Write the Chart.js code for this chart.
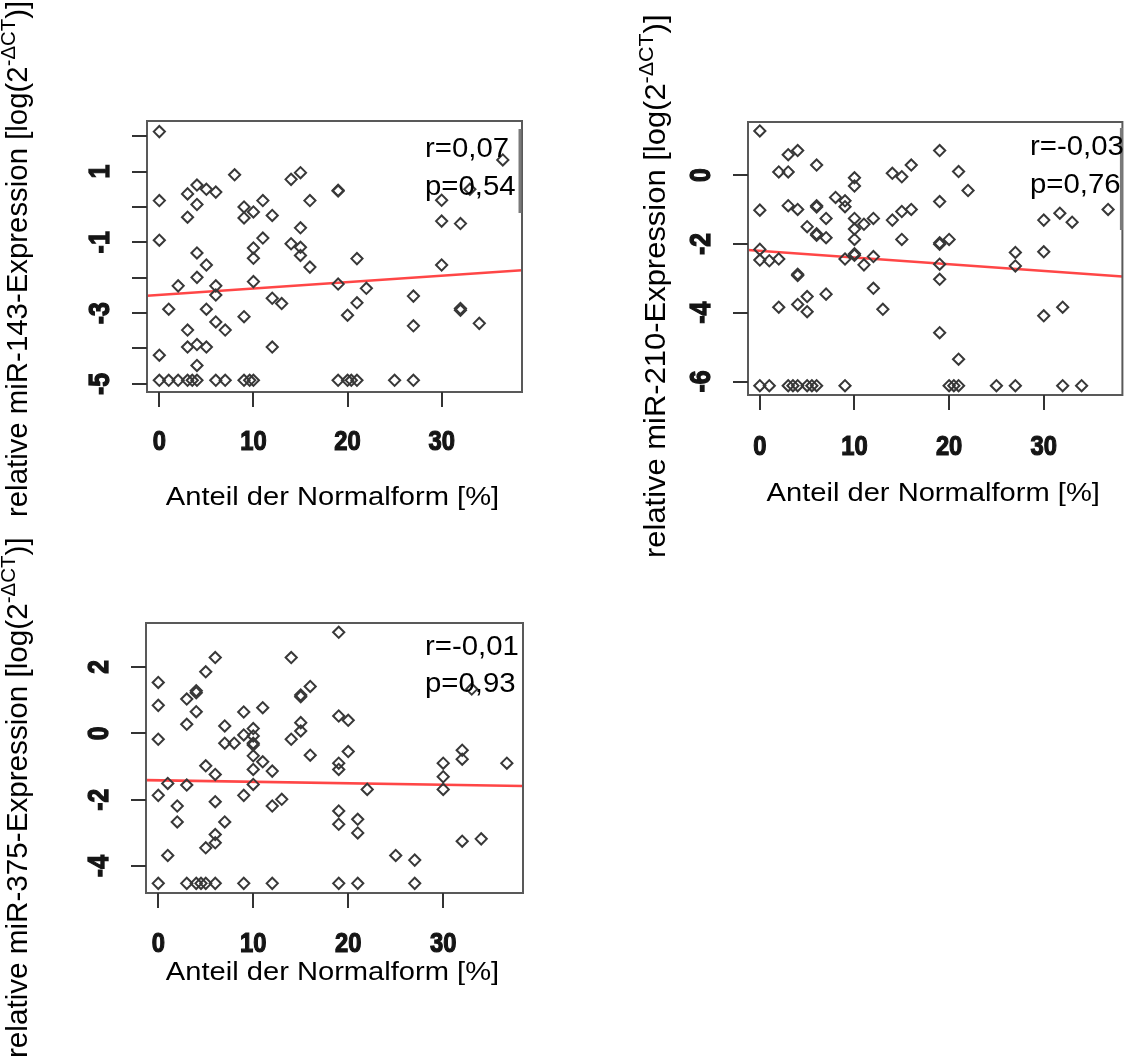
<!DOCTYPE html>
<html>
<head>
<meta charset="utf-8">
<title>miR-Expression vs. Anteil der Normalform</title>
<script src="https://cdn.jsdelivr.net/npm/chart.js@4.4.1/dist/chart.umd.min.js"></script>
<style>
body { margin: 0; background: #fff; }
#page { position: relative; width: 1130px; height: 1056px; overflow: hidden; }
canvas { position: absolute; }
</style>
</head>
<body>
<div id="page">
<canvas id="c143" width="565" height="540" style="left:0;top:0"></canvas>
<canvas id="c210" width="530" height="570" style="left:600px;top:0"></canvas>
<canvas id="c375" width="565" height="536" style="left:0;top:520px"></canvas>
</div>
<script>
// miR-143
const x143 = [0, 0, 0, 0,
  0, 1, 2, 3, 3.5, 4, 6, 7, 9, 9.6, 10, 19, 20, 20.4, 21, 25, 27,
  1, 2, 3, 3, 3, 3, 4, 4, 4, 4, 4, 4, 5, 6, 5, 5, 5, 6, 6, 6, 7,
  8, 9, 9, 10, 11, 12, 11, 10, 10, 10, 9, 12, 13, 12,
  14, 15, 16, 15, 14, 15, 15, 16, 19, 19, 19, 21, 22, 21, 20,
  27, 27, 30, 30, 30, 32, 32, 32, 34, 36.5, 33];
const y143 = [2.13, 0.18, -0.94, -4.19,
  -4.9, -4.9, -4.9, -4.9, -4.9, -4.9, -4.9, -4.9, -4.9, -4.9, -4.9, -4.9, -4.9, -4.9, -4.9, -4.9, -4.9,
  -2.89, -2.23, 0.37, -0.29, -3.48, -3.96, 0.62, 0.07, -1.30, -1.99, -3.89, -4.48, 0.50, 0.42, -1.64, -2.89, -3.96, -2.23, -2.49, -3.25, -3.48,
  0.91, 0.0, -0.31, -0.14, 0.18, -0.24, -0.88, -1.16, -1.45, -2.11, -3.10, -2.58, -2.73, -3.96,
  0.78, 0.97, 0.18, -0.59, -1.04, -1.14, -1.37, -1.70, 0.47, 0.45, -2.18, -1.46, -2.30, -2.71, -3.06,
  -2.52, -3.36, 0.19, -0.40, -1.64, -0.47, -2.87, -2.92, -3.29, 1.33, 0.5];
const fitX143 = [-1.31, 38.54];
const fitY143 = [-2.51, -1.79];

// miR-210
const x210 = [0, 0, 0, 0, 1, 2, 2, 3, 3, 4, 3, 4, 4, 4, 2, 4, 5, 5, 6, 6, 6, 5, 6, 6, 7, 7, 7,
  8, 9, 9, 10, 10, 10, 10, 10, 10, 10, 9, 11, 11, 12, 12, 12, 13,
  14, 15, 16, 14, 15, 16, 15, 19, 19, 19, 19, 20, 19, 19, 19, 21, 22, 21,
  27, 27, 30, 30, 30, 31.7, 33, 32, 36.8,
  0, 1, 3, 3.5, 4, 5, 5.5, 6, 9, 20, 20.5, 21, 25, 27, 32, 34];
const y210 = [1.28, -1.02, -2.16, -2.47, -2.49, -2.44, 0.09, 0.09, 0.59, 0.71, -0.89, -1.0, -2.88, -2.92, -3.84, -3.76, -3.53, -3.97, 0.29, -0.89, -0.93, -1.50, -1.71, -1.75, -1.26, -1.82, -3.46,
  -0.65, -0.75, -0.92, -0.08, -0.32, -1.26, -1.57, -1.87, -2.29, -2.33, -2.44, -1.43, -2.61, -1.26, -2.37, -3.29, -3.90,
  0.05, -0.05, 0.29, -1.31, -1.06, -1.0, -1.87, 0.71, -0.77, -1.97, -2.01, -1.87, -2.59, -3.03, -4.58, 0.10, -0.45, -5.35,
  -2.25, -2.64, -1.31, -2.23, -4.09, -1.11, -1.37, -3.84, -1.0,
  -6.12, -6.12, -6.12, -6.12, -6.12, -6.12, -6.12, -6.12, -6.12, -6.12, -6.12, -6.12, -6.12, -6.12, -6.12, -6.12];
const fitX210 = [-1.25, 38.31];
const fitY210 = [-2.18, -2.95];

// miR-375
const x375 = [0, 0, 0, 0, 1, 2, 2, 1, 3, 3, 4, 4, 4, 5, 6, 3, 5, 6, 6, 7, 6, 6, 5,
  7, 7, 8, 9, 9, 10, 10, 10, 10, 10, 10, 11, 11, 10, 9, 12, 12, 13,
  14, 15, 15, 16, 15, 15, 14, 16, 19, 19, 20, 20, 19, 19, 22, 19, 19, 21, 21,
  25, 27, 30, 30, 30, 32, 32, 32, 34, 36.7, 33,
  0, 3, 4, 4.5, 5, 6, 9, 12, 19, 21, 27];
const y375 = [1.53, 0.84, -0.18, -1.87, -1.51, -2.19, -2.67, -3.68, 0.27, 1.03, 1.28, 1.22, 0.65, 1.85, 2.28, -1.56, -0.98, -1.24, -2.06, -2.67, -3.05, -3.3, -3.45,
  0.22, -0.30, -0.30, 0.64, -0.05, 0.14, -0.08, -0.3, -0.35, -0.68, -1.09, 0.77, -0.86, -1.54, -1.87, -1.14, -2.19, -1.99,
  2.28, 1.15, 1.1, 1.41, 0.32, 0.07, -0.18, -0.66, 3.04, 0.52, 0.39, -0.55, -0.9, -1.09, -1.69, -2.34, -2.74, -2.59, -3.0,
  -3.68, -3.82, -0.9, -1.31, -1.69, -0.51, -0.78, -3.25, -3.18, -0.9, 1.33,
  -4.52, -4.52, -4.52, -4.52, -4.52, -4.52, -4.52, -4.52, -4.52, -4.52, -4.52];
const fitX375 = [-1.29, 38.4];
const fitY375 = [-1.41, -1.59];

// axis ticks
const xTickVals = [0, 10, 20, 30];
const yTicks143 = [-5, -4, -3, -2, -1, 0, 1, 2];
const yLabels143 = [1, -1, -3, -5];
const yTicks210 = [0, -2, -4, -6];
const yTicks375 = [2, 0, -2, -4];

const xTitle = 'Anteil der Normalform [%]';
const FONT = '"Liberation Sans", Arial, sans-serif';

function pts(xs, ys) {
  return xs.map((x, i) => ({ x: x, y: ys[i] }));
}

// draws the R-style box, ticks, labels and titles
const rPlot = {
  id: 'rPlot',
  afterDraw(chart, args, o) {
    const ctx = chart.ctx;
    const a = chart.chartArea;
    const sx = chart.scales.x, sy = chart.scales.y;
    ctx.save();

    // box
    ctx.strokeStyle = '#595959';
    ctx.lineWidth = 2;
    ctx.strokeRect(a.left, a.top, a.right - a.left, a.bottom - a.top);

    // gray edge of the pasted text box
    if (o.bar) {
      ctx.strokeStyle = '#7a7a7a';
      ctx.lineWidth = 3;
      ctx.beginPath();
      ctx.moveTo(a.right - o.bar[0], a.top + o.bar[1]);
      ctx.lineTo(a.right - o.bar[0], a.top + o.bar[2]);
      ctx.stroke();
    }

    // tick marks
    ctx.strokeStyle = '#333';
    ctx.lineWidth = 2;
    ctx.beginPath();
    o.xTicks.forEach(v => {
      const px = Math.round(sx.getPixelForValue(v));
      ctx.moveTo(px, a.bottom);
      ctx.lineTo(px, a.bottom + 15);
    });
    o.yTicks.forEach(v => {
      const py = Math.round(sy.getPixelForValue(v));
      ctx.moveTo(a.left, py);
      ctx.lineTo(a.left - 15, py);
    });
    ctx.stroke();

    // tick labels (bold, narrow, heavy)
    ctx.fillStyle = '#151515';
    ctx.strokeStyle = '#151515';
    ctx.lineWidth = 1.2;
    ctx.font = 'bold 27px ' + FONT;
    ctx.textAlign = 'center';
    ctx.textBaseline = 'middle';
    o.xTicks.forEach(v => {
      ctx.save();
      ctx.translate(sx.getPixelForValue(v), a.bottom + o.xLabelOff);
      ctx.scale(0.88, 1);
      ctx.fillText(String(v), 0, 0);
      ctx.strokeText(String(v), 0, 0);
      ctx.restore();
    });
    o.yLabels.forEach(v => {
      ctx.save();
      ctx.translate(a.left - 46, sy.getPixelForValue(v));
      ctx.rotate(-Math.PI / 2);
      ctx.scale(0.92, 1.12);
      ctx.fillText(String(v), 0, 0);
      ctx.strokeText(String(v), 0, 0);
      ctx.restore();
    });

    // x title
    ctx.fillStyle = '#000';
    ctx.font = '26px ' + FONT;
    ctx.textBaseline = 'middle';
    ctx.save();
    ctx.translate((a.left + a.right) / 2 - 2, a.bottom + o.xTitleOff);
    ctx.scale(1.12, 1.02);
    ctx.fillText(xTitle, 0, 0);
    ctx.restore();

    // y title with superscript
    const t = o.yTitle;
    ctx.save();
    ctx.translate(t.x, t.y);
    ctx.rotate(-Math.PI / 2);
    ctx.scale(t.stretch, 1.1);
    ctx.textAlign = 'left';
    ctx.textBaseline = 'alphabetic';
    ctx.font = '26px ' + FONT;
    ctx.fillText(t.main, 0, 0);
    let w = ctx.measureText(t.main).width;
    ctx.font = '18px ' + FONT;
    ctx.fillText('-\u0394CT', w, -11);
    w += ctx.measureText('-\u0394CT').width;
    ctx.font = '26px ' + FONT;
    ctx.fillText(')]', w, 0);
    ctx.restore();

    // r / p annotation
    ctx.font = '26px ' + FONT;
    ctx.textAlign = 'left';
    ctx.textBaseline = 'alphabetic';
    o.stats.forEach((s, i) => {
      ctx.save();
      ctx.translate(a.left + o.statX, a.top + o.statY[i]);
      ctx.scale(1.13, 1.03);
      ctx.fillText(s, 0, 0);
      ctx.restore();
    });

    ctx.restore();
  }
};

function makePlot(id, xs, ys, fx, fy, xr, yr, pad, deco) {
  const ctx = document.getElementById(id).getContext('2d');
  return new Chart(ctx, {
    type: 'scatter',
    data: {
      datasets: [
        {
          data: pts(fx, fy),
          showLine: true,
          borderColor: 'rgba(255, 50, 50, 0.9)',
          borderWidth: 2.6,
          pointRadius: 0,
          order: 2
        },
        {
          data: pts(xs, ys),
          pointStyle: 'rectRot',
          pointRadius: 5.6,
          borderColor: '#383838',
          backgroundColor: 'rgba(0,0,0,0)',
          borderWidth: 2,
          order: 1
        }
      ]
    },
    options: {
      responsive: false,
      animation: false,
      layout: { padding: pad },
      plugins: {
        legend: { display: false },
        tooltip: { enabled: false },
        rPlot: deco
      },
      scales: {
        x: { type: 'linear', display: false, min: xr[0], max: xr[1] },
        y: { type: 'linear', display: false, min: yr[0], max: yr[1] }
      }
    },
    plugins: [rPlot]
  });
}

makePlot('c143', x143, y143, fitX143, fitY143, [-1.31, 38.54], [-5.23, 2.43],
  { left: 147, top: 121, right: 43, bottom: 148 },
  {
    xTicks: xTickVals, yTicks: yTicks143, yLabels: yLabels143,
    xLabelOff: 51, xTitleOff: 106,
    yTitle: { x: 27, y: 517, stretch: 1.13, main: 'relative miR-143-Expression [log(2' },
    stats: ['r=0,07', 'p=0,54'], statX: 278, statY: [36, 74],
    bar: [2, 8, 92]
  });

makePlot('c210', x210, y210, fitX210, fitY210, [-1.25, 38.31], [-6.39, 1.54],
  { left: 148, top: 122, right: 2, bottom: 175 },
  {
    xTicks: xTickVals, yTicks: yTicks210, yLabels: yTicks210,
    xLabelOff: 53, xTitleOff: 99,
    yTitle: { x: 65, y: 558, stretch: 1.19, main: 'relative miR-210-Expression [log(2' },
    stats: ['r=-0,03', 'p=0,76'], statX: 282, statY: [33, 71],
    bar: [1, 6, 108]
  });

makePlot('c375', x375, y375, fitX375, fitY375, [-1.29, 38.4], [-4.81, 3.32],
  { left: 146, top: 103, right: 42, bottom: 163 },
  {
    xTicks: xTickVals, yTicks: yTicks375, yLabels: yTicks375,
    xLabelOff: 52, xTitleOff: 80,
    yTitle: { x: 27, y: 538, stretch: 1.14, main: 'relative miR-375-Expression [log(2' },
    stats: ['r=-0,01', 'p=0,93'], statX: 279, statY: [32, 69],
    bar: null
  });
</script>
</body>
</html>
